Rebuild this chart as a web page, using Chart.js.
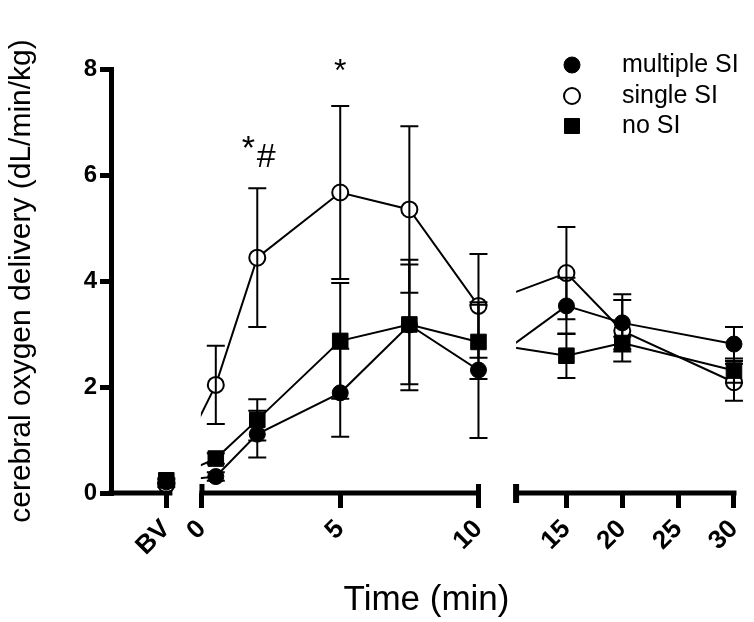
<!DOCTYPE html>
<html>
<head>
<meta charset="utf-8">
<script src="https://cdn.jsdelivr.net/npm/chart.js@4.4.1/dist/chart.umd.min.js"></script>
<style>
  html, body { margin: 0; padding: 0; background: #fff; }
  #wrap { width: 754px; height: 622px; }
</style>
</head>
<body>
<div id="wrap"><canvas id="myChart" width="754" height="622"></canvas></div>
<script>
// sampling times (BV = baseline value before the break)
const times = ["BV", 0.5, 2, 5, 7.5, 10, 15, 20, 30];

const multipleSI = [0.21, 0.31, 1.11, 1.89, 3.17, 2.32, 3.53, 3.21, 2.81];
const multipleSIerr = [0.04, 0.08, 0.44, 0.83, 1.23, 1.28, 0.53, 0.54, 0.32];

const singleSI = [0.16, 2.04, 4.44, 5.67, 5.35, 3.53, 4.15, 3.06, 2.09];
const singleSIerr = [0.04, 0.74, 1.31, 1.63, 1.57, 0.98, 0.87, 0.58, 0.35];

const noSI = [0.24, 0.65, 1.38, 2.87, 3.18, 2.85, 2.59, 2.83, 2.31];
const noSIerr = [0.04, 0.10, 0.39, 1.09, 1.13, 0.70, 0.42, 0.12, 0.23];

const tickTimes = ["BV", 0, 5, 10, 15, 20, 25, 30];
const tickLabels = ["BV", "0", "5", "10", "15", "20", "25", "30"];

const yTicks = [0, 2, 4, 6, 8];

// broken time axis: BV sits left of 0, 15-30 min is compressed
const BV_POS = -1.29;
const LATE_START = 15, LATE_POS = 13.18, LATE_SCALE = 0.404;
const axisPos = t => t === "BV" ? BV_POS : (t <= 10 ? t : LATE_POS + (t - LATE_START) * LATE_SCALE);

const X_MIN = -3.29, X_MAX = 19.53;
const axisSegments = [[X_MIN, -1.07], [0, 10], [11.36, axisPos(30)]];
const clipRanges = [[-3.8, -1.2], [-0.04, 10.18], [11.36, 20.5]];

const FONT = "'Liberation Sans', Arial, Helvetica, sans-serif";

const elementChart = document.querySelector("#myChart");

const toPoints = values => times.map((t, i) => ({ x: axisPos(t), y: values[i] }));

// connecting lines (clipped at the axis breaks)
const makeLine = (label, values, order) => ({
  label: label,
  isLine: true,
  data: toPoints(values),
  borderColor: "#000",
  borderWidth: 2,
  tension: 0,
  fill: false,
  clip: false,
  pointRadius: 0,
  pointHoverRadius: 0,
  order: order,
});

// markers (never clipped) with error values
const makeMarks = (label, values, errors, style) => ({
  label: label,
  data: toPoints(values),
  errors: errors,
  showLine: false,
  clip: false,
  borderColor: "#000",
  pointBorderColor: "#000",
  pointHoverBorderColor: "#000",
  ...style,
});

const datasets = [
  makeMarks("multiple SI", multipleSI, multipleSIerr, {
    pointStyle: "circle", pointRadius: 8, pointHoverRadius: 8,
    pointBackgroundColor: "#000", pointBorderWidth: 1, order: 0,
  }),
  makeMarks("single SI", singleSI, singleSIerr, {
    pointStyle: "circle", pointRadius: 8, pointHoverRadius: 8,
    pointBackgroundColor: "#fff", pointBorderWidth: 2, order: 2,
  }),
  makeMarks("no SI", noSI, noSIerr, {
    pointStyle: "rect", pointRadius: 11, pointHoverRadius: 11,
    pointBackgroundColor: "#000", pointBorderWidth: 1, order: 1,
  }),
  makeLine("multiple SI line", multipleSI, 5),
  makeLine("single SI line", singleSI, 7),
  makeLine("no SI line", noSI, 6),
];

const breakClip = {
  id: "breakClip",
  beforeDatasetDraw(chart, args) {
    const { ctx } = chart;
    const x = chart.scales.x;
    ctx.save();
    if (!chart.data.datasets[args.index].isLine) return;
    ctx.beginPath();
    clipRanges.forEach(([a, b]) => {
      const l = x.getPixelForValue(a);
      const r = x.getPixelForValue(b);
      ctx.rect(l, 0, r - l, chart.height);
    });
    ctx.clip();
  },
  afterDatasetDraw(chart) {
    chart.ctx.restore();
  },
};

const errorBars = {
  id: "errorBars",
  afterDatasetsDraw(chart) {
    const { ctx } = chart;
    const y = chart.scales.y;
    ctx.save();
    ctx.strokeStyle = "#000";
    ctx.lineWidth = 2;
    chart.data.datasets.forEach((ds, di) => {
      if (!ds.errors) return;
      const meta = chart.getDatasetMeta(di);
      ds.errors.forEach((e, i) => {
        const px = meta.data[i].x;
        const v = ds.data[i].y;
        const top = y.getPixelForValue(v + e);
        const bot = y.getPixelForValue(v - e);
        ctx.beginPath();
        ctx.moveTo(px, top); ctx.lineTo(px, bot);
        ctx.moveTo(px - 9, top); ctx.lineTo(px + 9, top);
        ctx.moveTo(px - 9, bot); ctx.lineTo(px + 9, bot);
        ctx.stroke();
      });
    });
    ctx.restore();
  },
};

// x axis drawn in pieces with end caps
const brokenAxis = {
  id: "brokenAxis",
  afterDraw(chart) {
    const { ctx, chartArea } = chart;
    const x = chart.scales.x;
    const yb = chartArea.bottom;
    ctx.save();
    ctx.fillStyle = "#000";
    const [s1, s2, s3] = axisSegments.map(([a, b]) => [x.getPixelForValue(a), x.getPixelForValue(b)]);
    ctx.fillRect(s1[0] - 2.5, yb - 2.5, s1[1] - s1[0] + 2.5, 5);
    ctx.fillRect(s2[0] - 2.5, yb - 2.5, s2[1] - s2[0] + 5, 5);
    ctx.fillRect(s2[0] - 2.5, yb - 9, 5, 9);
    ctx.fillRect(s2[1] - 2.5, yb - 9, 5, 9);
    ctx.fillRect(s3[0] - 2.5, yb - 2.5, s3[1] - s3[0] + 5, 5);
    ctx.fillRect(s3[0] - 3, yb - 9, 6, 19);
    ctx.restore();
  },
};

const legendBox = {
  id: "legendBox",
  afterDraw(chart) {
    const { ctx } = chart;
    const mx = 572, tx = 622, rows = [65, 96, 126];
    ctx.save();
    ctx.font = "25px " + FONT;
    ctx.textBaseline = "middle";
    chart.data.datasets.filter(ds => !ds.isLine).forEach((ds, i) => {
      const yy = rows[i];
      ctx.strokeStyle = "#000";
      ctx.lineWidth = ds.pointBorderWidth;
      ctx.fillStyle = ds.pointBackgroundColor;
      ctx.beginPath();
      if (ds.pointStyle === "rect") {
        ctx.rect(mx - 7.5, yy - 7.5, 15, 15);
      } else {
        ctx.arc(mx, yy, 8, 0, Math.PI * 2);
      }
      ctx.fill();
      ctx.stroke();
      ctx.fillStyle = "#000";
      ctx.fillText(ds.label, tx, yy);
    });
    ctx.restore();
  },
};

const marks = [
  { text: "*", t: 2, v: 6.3, dx: -9, size: 34 },
  { text: "#", t: 2, v: 6.15, dx: 9, size: 34 },
  { text: "*", t: 5, v: 7.78, dx: 0, size: 32 },
];

const sigMarks = {
  id: "sigMarks",
  afterDraw(chart) {
    const { ctx } = chart;
    const x = chart.scales.x, y = chart.scales.y;
    ctx.save();
    ctx.textAlign = "center";
    ctx.textBaseline = "alphabetic";
    ctx.fillStyle = "#000";
    marks.forEach(m => {
      ctx.font = m.size + "px " + FONT;
      ctx.fillText(m.text, x.getPixelForValue(axisPos(m.t)) + m.dx, y.getPixelForValue(m.v));
    });
    ctx.restore();
  },
};

const configChart = {
  type: "line",
  data: { datasets: datasets },
  options: {
    responsive: false,
    animation: false,
    devicePixelRatio: 1,
    layout: { padding: { top: 69, right: 4, bottom: 0, left: 0 } },
    plugins: {
      legend: { display: false },
      tooltip: { enabled: false },
    },
    scales: {
      x: {
        type: "linear",
        min: X_MIN,
        max: X_MAX,
        afterBuildTicks: scale => {
          scale.ticks = tickTimes.map(t => ({ value: axisPos(t) }));
        },
        afterFit: scale => {
          scale.height = 129;
          scale.paddingLeft = 0;
          scale.paddingRight = 0;
        },
        border: { display: false },
        grid: {
          drawOnChartArea: false,
          color: "#000",
          lineWidth: 5,
          tickLength: 15,
        },
        ticks: {
          autoSkip: false,
          minRotation: 45,
          maxRotation: 45,
          padding: 6,
          color: "#000",
          font: { family: FONT, size: 26, weight: "bold" },
          callback: (value, index) => tickLabels[index],
        },
        title: {
          display: true,
          text: "Time (min)",
          color: "#000",
          font: { family: FONT, size: 35 },
          padding: { top: 0, bottom: 1 },
        },
      },
      y: {
        min: 0,
        max: 8,
        afterBuildTicks: scale => {
          scale.ticks = yTicks.map(v => ({ value: v }));
        },
        afterFit: scale => {
          scale.width = 111;
          scale.paddingTop = 0;
          scale.paddingBottom = 0;
        },
        border: { display: true, color: "#000", width: 5 },
        grid: {
          drawOnChartArea: false,
          color: "#000",
          lineWidth: 5,
          tickLength: 11,
        },
        ticks: {
          padding: 3,
          color: "#000",
          font: { family: FONT, size: 24, weight: "bold" },
        },
        title: {
          display: true,
          text: "cerebral oxygen delivery (dL/min/kg)",
          color: "#000",
          font: { family: FONT, size: 30 },
          padding: { top: 4, bottom: 0 },
        },
      },
    },
  },
  plugins: [breakClip, errorBars, brokenAxis, legendBox, sigMarks],
};

const myChart = new Chart(elementChart, configChart);
</script>
</body>
</html>
